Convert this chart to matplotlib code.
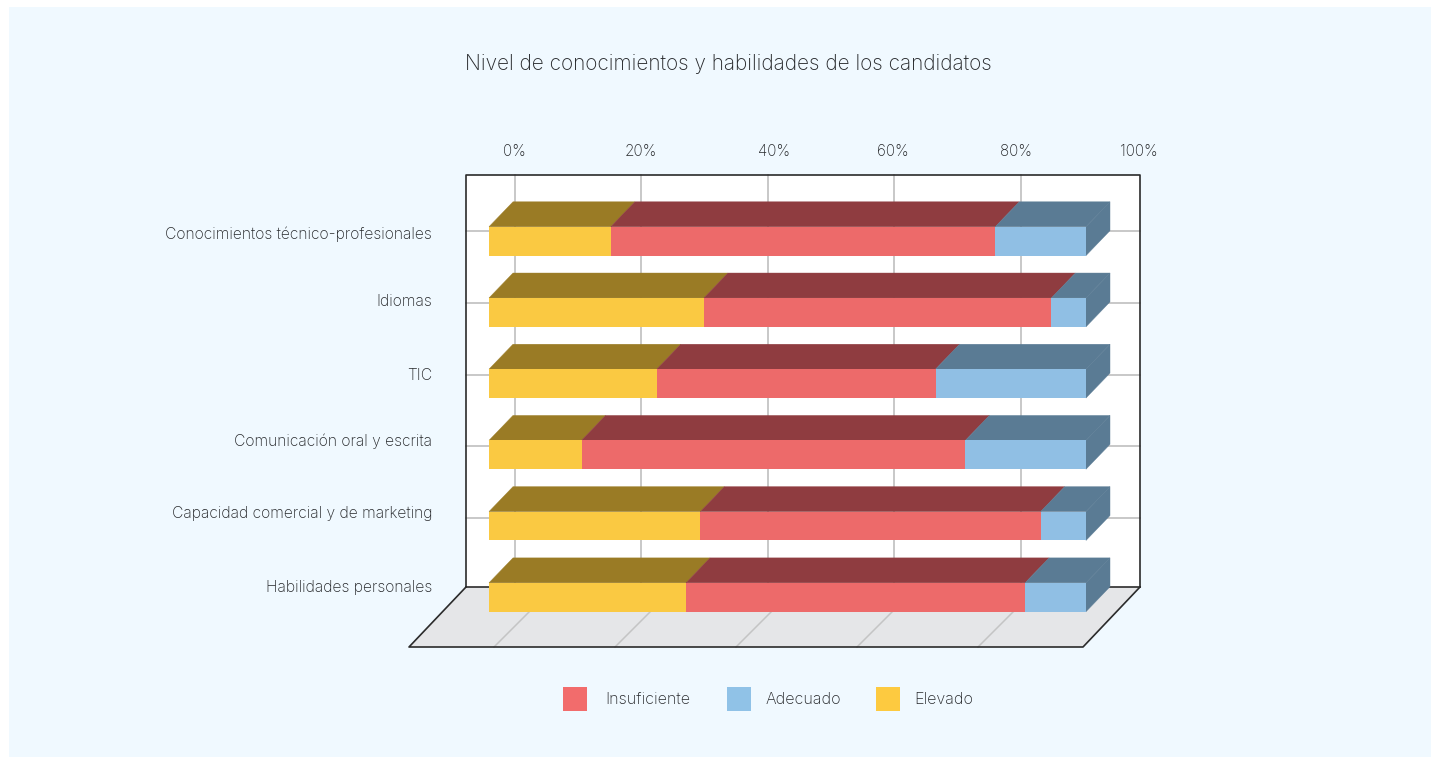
import matplotlib
matplotlib.use("Agg")
import matplotlib.pyplot as plt
from matplotlib.patches import Polygon, Rectangle

plt.rcParams['font.family'] = ['Inter', 'DejaVu Sans']

W, H = 1431, 757

title = "Nivel de conocimientos y habilidades de los candidatos"
categories = ["Conocimientos técnico-profesionales", "Idiomas", "TIC",
              "Comunicación oral y escrita", "Capacidad comercial y de marketing",
              "Habilidades personales"]
elevado = [20.4, 36.0, 28.1, 15.5, 35.4, 33.0]
insuficiente = [64.4, 58.2, 46.7, 64.3, 57.0, 56.8]
adecuado = [15.2, 5.8, 25.2, 20.2, 7.6, 10.2]
tick_labels = ["0%", "20%", "40%", "60%", "80%", "100%"]

BG = "#F0F9FF"
TEXT = "#26282B"
GRID = "#C4C4C4"
EDGE = "#2B2B2B"
FRONT = {"el": "#FAC942", "in": "#ED6A6A", "ad": "#90BFE4"}
DARK = {"el": "#9A7B25", "in": "#8F3C40", "ad": "#5A7B94"}

fig = plt.figure(figsize=(W / 100, H / 100), dpi=100, facecolor="white")

# pixel-space layer for the wall, floor and text
bg = fig.add_axes([0, 0, 1, 1])
bg.set_xlim(0, W)
bg.set_ylim(H, 0)
bg.axis("off")
bg.add_patch(Rectangle((9, 7), W - 9, H - 7, fc=BG, ec="none"))

bg.text(728, 64.5, title, ha="center", va="center", fontsize=14.95, color=TEXT, fontweight="light")

# back wall and floor
bg.add_patch(Rectangle((466, 175), 674, 412, fc="white", ec="none"))
bg.add_patch(Polygon([(466, 587), (1140, 587), (1083, 647), (409, 647)], fc="#E5E6E8", ec="none"))

for x in [514.5, 641, 767.7, 894, 1020.7]:
    bg.plot([x, x], [175, 587], color=GRID, lw=1.3)
for x in [494, 615, 736, 857, 978]:
    bg.plot([x, x + 60], [647, 587], color=GRID, lw=1.1)
for y in [231, 303, 375, 446, 518]:
    bg.plot([466, 1140], [y, y], color=GRID, lw=1.3)

bg.plot([466, 466, 1140, 1140], [587, 175, 175, 587], color=EDGE, lw=1.2)
bg.plot([466, 1140], [587, 587], color=EDGE, lw=1.2)
bg.plot([466, 409, 1083, 1140], [587, 647, 647, 587], color=EDGE, lw=1.2)

for x, lab in zip([514, 640.7, 774.3, 893, 1015.7, 1139.3], tick_labels):
    bg.text(x, 152, lab, ha="center", va="center", fontsize=11.0, color=TEXT, fontweight="light")
for y, lab in zip([233, 300, 374, 440, 512, 586], categories):
    bg.text(432, y + 1.5, lab, ha="right", va="center", fontsize=11.3, color=TEXT, fontweight="light")

# legend
for x, col, tx, lab in [(563, "#F26C6C", 605, "Insuficiente"),
                        (727, "#90C2E7", 766, "Adecuado"),
                        (876, "#FDCA40", 914, "Elevado")]:
    bg.add_patch(Rectangle((x, 687), 24, 24, fc=col, ec="none"))
    bg.text(tx, 699.5, lab, ha="left", va="center", fontsize=11.6, color=TEXT, fontweight="light")

# bars: percent on x, row number on y
left_px, right_px = 489, 1086
top_px, bot_px = 205.55, 632.85
ax = fig.add_axes([left_px / W, 1 - bot_px / H, (right_px - left_px) / W, (bot_px - top_px) / H])
ax.set_xlim(0, 100)
ax.set_ylim(5.5, -0.5)
ax.axis("off")

bar_h = 0.405
depth_x = 4.02
depth_y = 0.35

for i in range(len(categories)):
    start = 0
    top = i - bar_h / 2
    bottom = i + bar_h / 2
    parts = [("el", elevado[i]), ("in", insuficiente[i]), ("ad", adecuado[i])]
    for key, val in parts:
        end = start + val
        # top face, then front face
        ax.add_patch(Polygon([(start, top), (end, top), (end + depth_x, top - depth_y),
                              (start + depth_x, top - depth_y)],
                             fc=DARK[key], ec=DARK[key], lw=0.3, clip_on=False, zorder=2))
        ax.barh(i, val, left=start, height=bar_h, color=FRONT[key], clip_on=False, zorder=3)
        start = end
    # right side of the stack
    ax.add_patch(Polygon([(start, top), (start + depth_x, top - depth_y),
                          (start + depth_x, bottom - depth_y), (start, bottom)],
                         fc=DARK["ad"], ec=DARK["ad"], lw=0.3, clip_on=False, zorder=2))

fig.savefig("out.png", dpi=100, facecolor=fig.get_facecolor())
